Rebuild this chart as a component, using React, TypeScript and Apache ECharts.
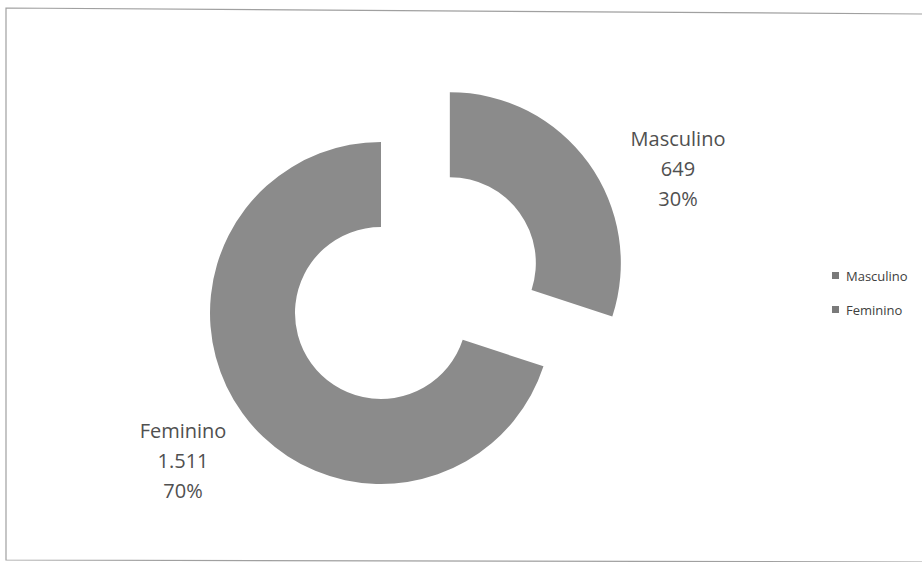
import React, { useEffect, useRef } from "react";
import * as echarts from "echarts";

const categories = ["Masculino", "Feminino"];
const values = [649, 1511];
const selectedFlags = [true, false];

const FONT = "'Open Sans', 'Noto Sans', sans-serif";

function formatPt(n: number): string {
  const s = String(Math.round(n));
  return s.replace(/\B(?=(\d{3})+(?!\d))/g, ".");
}

export default function App() {
  const ref = useRef<HTMLDivElement>(null);

  useEffect(() => {
    if (!ref.current) return;
    const chart = echarts.init(ref.current, undefined, { renderer: "svg" });
    const total = values.reduce((a, b) => a + b, 0);
    const labelPos = [
      { x: 678, y: 168 },
      { x: 183, y: 460 },
    ];
    const labelTexts = categories.map((name, i) => ({
      type: "text",
      silent: true,
      x: labelPos[i].x,
      y: labelPos[i].y,
      style: {
        text: `${name}\n${formatPt(values[i])}\n${Math.round((values[i] / total) * 100)}%`,
        font: `20px ${FONT}`,
        lineHeight: 30,
        fill: "#505050",
        align: "center",
        verticalAlign: "middle",
      },
    }));
    chart.setOption({
      animation: false,
      backgroundColor: "#ffffff",
      graphic: [
        {
          type: "polyline",
          silent: true,
          shape: { points: [[922, 14], [6, 8], [6, 560], [922, 562]] },
          style: { stroke: "#a0a0a0", lineWidth: 1.2, fill: "none" },
        },
        ...labelTexts,
      ],
      legend: {
        orient: "vertical",
        left: 827,
        top: 264,
        itemWidth: 7,
        itemHeight: 7,
        itemGap: 21,
        icon: "rect",
        selectedMode: false,
        data: categories,
        itemStyle: { color: "#7a7a7a" },
        textStyle: { fontFamily: FONT, fontSize: 13, color: "#404040", padding: [0, 0, 0, 2] },
      },
      series: [
        {
          type: "pie",
          center: [381, 313],
          radius: [86, 171],
          startAngle: 90,
          clockwise: true,
          selectedMode: "single",
          selectedOffset: 85,
          silent: true,
          itemStyle: { color: "#8b8b8b" },
          emphasis: { disabled: true },
          labelLine: { show: false },
          label: { show: false },
          data: categories.map((name, i) => ({
            name,
            value: values[i],
            selected: selectedFlags[i],
          })),
        },
      ],
    });
    return () => chart.dispose();
  }, []);

  return (
    <div
      ref={ref}
      style={{ position: "absolute", left: 0, top: 0, width: 922, height: 562 }}
    />
  );
}
